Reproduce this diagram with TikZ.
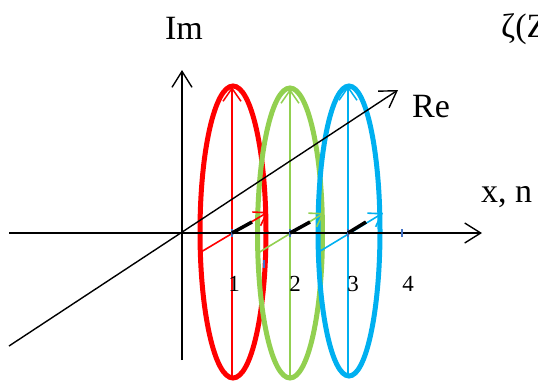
\documentclass[tikz,border=0pt]{standalone}
\usepackage{fontspec}
\setmainfont{Liberation Serif}
\usetikzlibrary{arrows.meta}
\definecolor{cred}{HTML}{FF0000}
\definecolor{cgreen}{HTML}{92D050}
\definecolor{cblue}{HTML}{00B0F0}
\definecolor{ctick}{HTML}{4472C4}
\begin{document}
\begin{tikzpicture}[x=1pt,y=-1pt,
  axis/.style={line width=1.4pt,-{Straight Barb[length=16pt,width=20pt,line width=1.4pt]}},
  ring/.style={line width=5pt},
  thinarr/.style={line width=1.5pt,-{Straight Barb[length=13pt,width=18pt,line width=1.5pt]}},
  smallarr/.style={line width=1.6pt,-{Straight Barb[length=12pt,width=16pt,line width=1.6pt]}},
  seg/.style={line width=3.5pt,black},
  tickmark/.style={ctick,line width=1.4pt},
  lbl/.style={font=\fontsize{34}{40}\selectfont,inner sep=0pt},
  num/.style={font=\fontsize{23}{27}\selectfont,inner sep=0pt}]
\useasboundingbox (0,0) rectangle (538,381);
% coordinates
\coordinate (xl) at (9,233);
\coordinate (xr) at (482,233);
\coordinate (yb) at (182,360);
\coordinate (yt) at (182,70);
\coordinate (dl) at (9,346);
\coordinate (dr) at (398,90);
\coordinate (c1) at (233,232);
\coordinate (c2) at (290,233);
\coordinate (c3) at (349,231);
% rings
\draw[ring,cred] (c1) ellipse [x radius=33pt, y radius=146pt];
\draw[ring,cgreen] (c2) ellipse [x radius=32.5pt, y radius=145pt];
\draw[ring,cblue] (c3) ellipse [x radius=31pt, y radius=145pt];
% vertical thin arrows
\coordinate (r1b) at (232,378); \coordinate (r1t) at (232,87);
\coordinate (r2b) at (290,379); \coordinate (r2t) at (290,89);
\coordinate (r3b) at (348,377); \coordinate (r3t) at (348,86);
\draw[thinarr,cred] (r1b) -- (r1t);
\draw[thinarr,cgreen] (r2b) -- (r2t);
\draw[thinarr,cblue] (r3b) -- (r3t);
% small arrows parallel to Re
\coordinate (s1a) at (201,252); \coordinate (s1b) at (268,212);
\coordinate (s2a) at (258,253); \coordinate (s2b) at (324,213);
\coordinate (s3a) at (317,253); \coordinate (s3b) at (383,213);
\draw[smallarr,cred] (s1a) -- (s1b);
\draw[smallarr,cgreen] (s2a) -- (s2b);
\draw[smallarr,cblue] (s3a) -- (s3b);
% axes
\draw[axis] (xl) -- (xr);
\draw[axis] (yb) -- (yt);
\draw[axis] (dl) -- (dr);
% ticks
\coordinate (t1) at (232,233); \coordinate (t2) at (290,233);
\coordinate (t3) at (348,233); \coordinate (t4) at (402,233);
\coordinate (t5) at (264,264);
\foreach \t in {t1,t2,t3,t4,t5}
  \draw[tickmark] ([yshift=-4pt]\t) -- ([yshift=4pt]\t);
% thick black segments
\coordinate (k1) at (252,222); \coordinate (k2) at (310,222); \coordinate (k3) at (366,222);
\draw[seg] (t1) -- (k1);
\draw[seg] (t2) -- (k2);
\draw[seg] (t3) -- (k3);
% labels
\node[lbl,anchor=base] (im) at (184,39) {Im};
\node[lbl,anchor=base west] (re) at (412,117) {Re};
\node[lbl,anchor=base west] (xn) at (481,202) {x, n};
\node[lbl,anchor=base west] (zeta) at (501,37) {ζ(Z)};
\node[num,anchor=base] (n1) at (234,291) {1};
\node[num,anchor=base] (n2) at (295,291) {2};
\node[num,anchor=base] (n3) at (353,291) {3};
\node[num,anchor=base] (n4) at (408,291) {4};
\end{tikzpicture}
\end{document}
